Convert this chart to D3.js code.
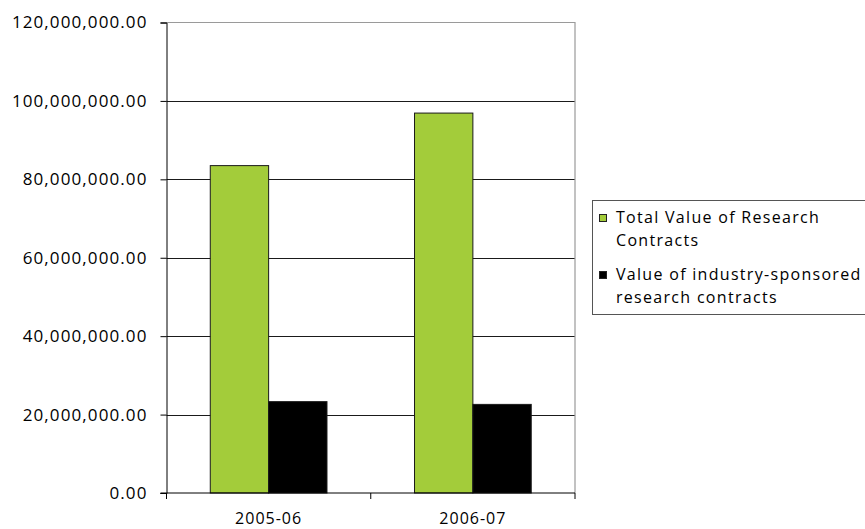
<!DOCTYPE html>
<html>
<head>
<meta charset="utf-8">
<script src="https://cdn.jsdelivr.net/npm/d3@7"></script>
<style>
  html, body { margin: 0; padding: 0; background: #fff; }
  svg { display: block; }
  text { font-family: "Open Sans", sans-serif; fill: #000; }
</style>
</head>
<body>
<svg id="chart" width="865" height="529"></svg>
<script>
// Research contract values by fiscal year
const years = ["2005-06", "2006-07"];
const seriesNames = ["Total Value of Research Contracts", "Value of industry-sponsored research contracts"];
const legendLines = [["Total Value of Research", "Contracts"], ["Value of industry-sponsored", "research contracts"]];
const totalValue = [83500000, 96900000];
const industryValue = [23300000, 22600000];
const yTicks = [0, 20000000, 40000000, 60000000, 80000000, 100000000, 120000000];

const colors = ["#A3CC3A", "#000000"];
const series = [totalValue, industryValue];

const svg = d3.select("#chart");
const plot = { left: 166.5, right: 575, top: 22.5, bottom: 493 };

const x = d3.scaleBand().domain(years).range([plot.left, plot.right]).paddingInner(0).paddingOuter(0);
const groupPad = 0.75 / 3.5; // 150% gap width, split on each side of a group
const xs = d3.scaleBand().domain(d3.range(series.length))
  .range([x.bandwidth() * groupPad, x.bandwidth() * (1 - groupPad)]);
const y = d3.scaleLinear().domain([0, 120000000]).range([plot.bottom, plot.top]);

const fmt = d3.format(",.2f");

// Gridlines
svg.append("g").selectAll("line")
  .data(yTicks.filter(t => t > 0 && t < 120000000))
  .join("line")
  .attr("x1", plot.left).attr("x2", plot.right)
  .attr("y1", d => Math.round(y(d)) + 0.5).attr("y2", d => Math.round(y(d)) + 0.5)
  .attr("stroke", "#1a1a1a").attr("stroke-width", 1);

// Plot area frame (top and right)
svg.append("path")
  .attr("d", `M${plot.left},${plot.top}H${plot.right}V${plot.bottom}`)
  .attr("fill", "none").attr("stroke", "#9a9a9a").attr("stroke-width", 1.2);

// Bars
const groups = svg.append("g").selectAll("g")
  .data(years).join("g")
  .attr("transform", d => `translate(${x(d)},0)`);

groups.selectAll("rect")
  .data((d, i) => series.map((s, k) => ({ k, v: s[i] })))
  .join("rect")
  .attr("x", d => xs(d.k))
  .attr("width", xs.bandwidth())
  .attr("y", d => y(d.v))
  .attr("height", d => y(0) - y(d.v))
  .attr("fill", d => colors[d.k])
  .attr("stroke", "#1a1a1a")
  .attr("stroke-width", 1);

// Y axis
const yAxis = d3.axisLeft(y).tickValues(yTicks).tickFormat(fmt).tickSize(6).tickPadding(13);
const gy = svg.append("g").attr("transform", `translate(${plot.left},0)`).call(yAxis);
gy.select(".domain").attr("stroke", "#000");
gy.selectAll(".tick line").attr("stroke", "#000");
gy.selectAll("text").style("font-size", "17px").style("letter-spacing", "1.1px")
  .attr("fill", "#000");

// X axis with boundary ticks between categories
const gx = svg.append("g").attr("transform", `translate(0,${plot.bottom})`);
gx.append("line").attr("x1", plot.left - 6).attr("x2", plot.right)
  .attr("y1", 0).attr("y2", 0).attr("stroke", "#000");
const boundaries = years.map(d => x(d)).concat([plot.right]);
gx.selectAll("line.tk").data(boundaries).join("line").attr("class", "tk")
  .attr("x1", d => d).attr("x2", d => d).attr("y1", 0).attr("y2", 6)
  .attr("stroke", "#000");
gx.selectAll("text").data(years).join("text")
  .attr("x", d => x(d) + x.bandwidth() / 2)
  .attr("y", 31)
  .attr("text-anchor", "middle")
  .style("font-size", "16px").style("letter-spacing", "1px")
  .text(d => d);

// Legend
const lg = svg.append("g");
lg.append("rect").attr("x", 592.5).attr("y", 200.5).attr("width", 300).attr("height", 114)
  .attr("fill", "#fff").attr("stroke", "#555").attr("stroke-width", 1);
const entry = lg.selectAll("g.entry").data(seriesNames).join("g").attr("class", "entry")
  .attr("transform", (d, i) => `translate(0,${i * 57})`);
entry.append("rect").attr("x", 599.5).attr("y", 214.5).attr("width", 7).attr("height", 7)
  .attr("fill", (d, i) => colors[i]).attr("stroke", "#222");
entry.append("text").attr("x", 616).attr("y", 223)
  .style("font-size", "16px").style("letter-spacing", "1.3px")
  .selectAll("tspan").data((d, i) => legendLines[i]).join("tspan")
  .attr("x", 616).attr("dy", (d, j) => j === 0 ? 0 : 23)
  .text(d => d);
</script>
</body>
</html>
